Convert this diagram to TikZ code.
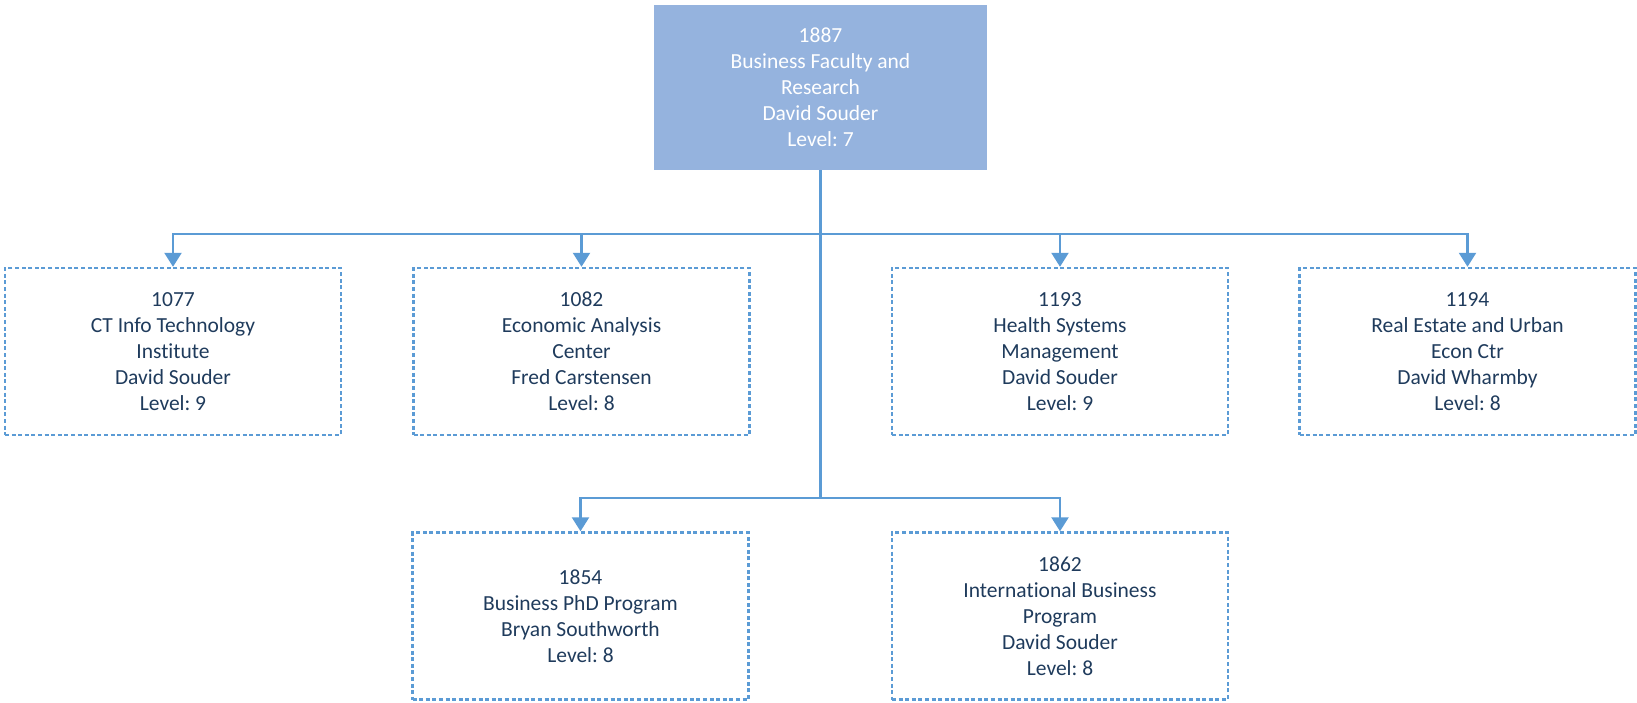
\documentclass[tikz,border=0pt]{standalone}
\usepackage{fontspec}
\setmainfont{Carlito}[Ligatures=NoCommon]
\frenchspacing
\usetikzlibrary{arrows.meta}
\definecolor{linkblue}{HTML}{5B9BD5}
\definecolor{headfill}{HTML}{95B3DE}
\definecolor{unittext}{HTML}{1F3B5C}
\begin{document}
\begin{tikzpicture}[x=1pt,y=-1pt,
    unit/.style={draw=linkblue,line width=2.4pt,dash pattern=on 4pt off 2.6pt,
      minimum width=336pt,minimum height=167pt,align=center,text=unittext,
      font=\fontsize{21.5}{26}\selectfont},
    head/.style={fill=headfill,draw=none,minimum width=333pt,minimum height=165pt,
      align=center,text=white,font=\fontsize{21.5}{26}\selectfont},
    link/.style={draw=linkblue,line width=2.3pt},
    ->/.style={link,-{Triangle[width=17pt,length=14pt]}}]
    \useasboundingbox (0,0) rectangle (1637,703);
    \node [head] (top) at (820.5,87.5) {1887\\Business Faculty and\\Research\\David Souder\\Level: 7};
    \node [unit] (ct) at (173,351.5) {1077\\CT Info Technology\\Institute\\David Souder\\Level: 9};
    \node [unit] (econ) at (581.5,351.5) {1082\\Economic Analysis\\Center\\Fred Carstensen\\Level: 8};
    \node [unit] (health) at (1060,351.5) {1193\\Health Systems\\Management\\David Souder\\Level: 9};
    \node [unit] (estate) at (1467.5,351.5) {1194\\Real Estate and Urban\\Econ Ctr\\David Wharmby\\Level: 8};
    \node [unit] (phd) at (580.5,616) {1854\\Business PhD Program\\Bryan Southworth\\Level: 8};
    \node [unit] (intl) at (1060,616) {1862\\International Business\\Program\\David Souder\\Level: 8};
    \coordinate (j1) at (820.5,234);
    \coordinate (j2) at (820.5,498);
    \draw [link] (top) -- (j2);
    \draw [->] (j1) -| (ct);
    \draw [->] (j1) -| (econ);
    \draw [->] (j1) -| (health);
    \draw [->] (j1) -| (estate);
    \draw [->] (j2) -| (phd);
    \draw [->] (j2) -| (intl);
\end{tikzpicture}
\end{document}
